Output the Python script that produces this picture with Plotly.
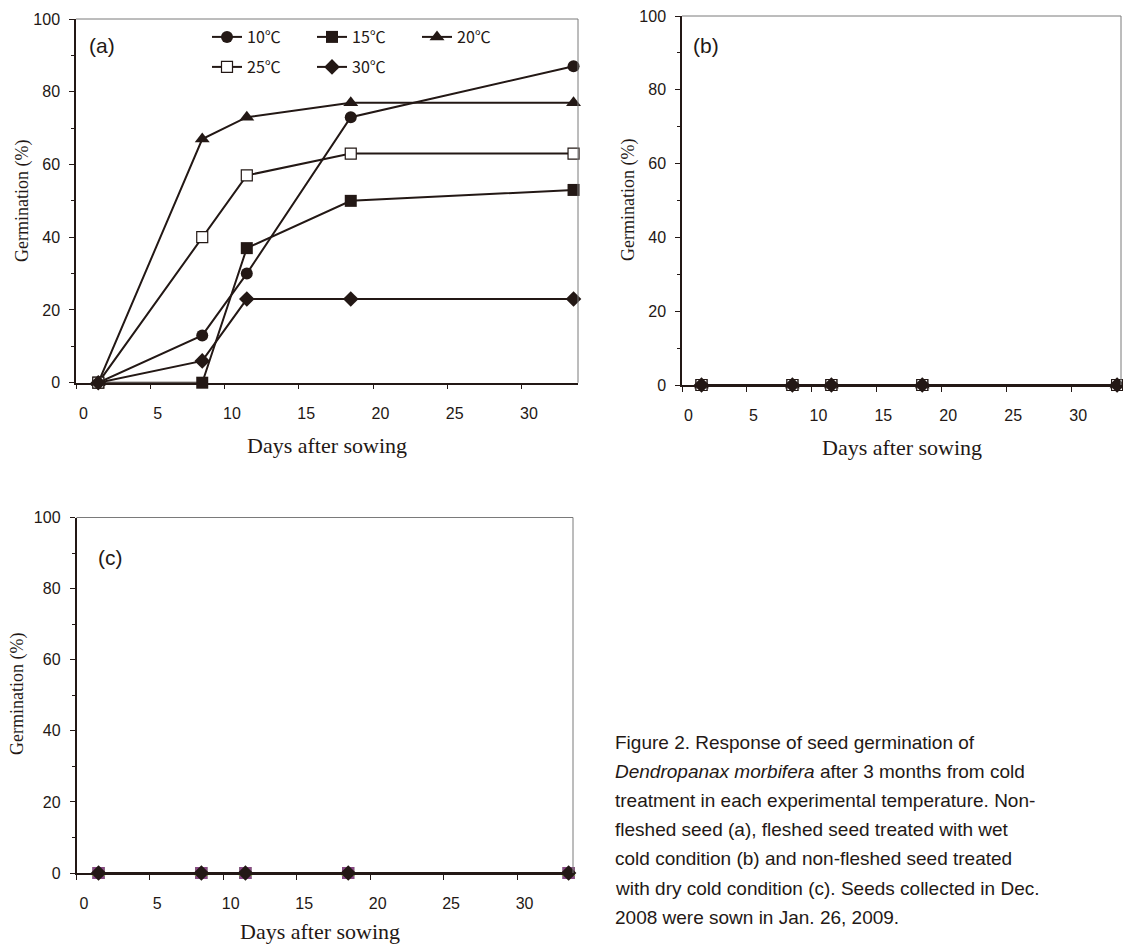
import plotly.graph_objects as go

# ---------------- data ----------------
days = [1, 8, 11, 18, 33]
series_names = ["10℃", "15℃", "20℃", "25℃", "30℃"]
germ_a = {
    "10℃": [0, 13, 30, 73, 87],
    "15℃": [0, 0, 37, 50, 53],
    "20℃": [0, 67, 73, 77, 77],
    "25℃": [0, 40, 57, 63, 63],
    "30℃": [0, 6, 23, 23, 23],
}
germ_b = {k: [0, 0, 0, 0, 0] for k in series_names}
germ_c = {k: [0, 0, 0, 0, 0] for k in series_names}
x_ticks = [0, 5, 10, 15, 20, 25, 30]
y_ticks = [0, 20, 40, 60, 80, 100]

DARK = "#231815"
W, H = 1123, 947

styles = {
    "10℃": dict(symbol="circle", size=12, color=DARK, line=dict(width=0)),
    "15℃": dict(symbol="square", size=12, color=DARK, line=dict(width=0)),
    "20℃": dict(symbol="triangle-up", size=13, color=DARK, line=dict(width=0)),
    "25℃": dict(symbol="square", size=11, color="white", line=dict(width=1.2, color=DARK)),
    "30℃": dict(symbol="diamond", size=12, color=DARK, line=dict(width=0)),
}
styles_c = {
    "10℃": dict(symbol="circle", size=12, color=DARK, line=dict(width=0)),
    "15℃": dict(symbol="square", size=12, color=DARK, line=dict(width=0)),
    "25℃": dict(symbol="square", size=12, color="#8a4a86", line=dict(width=0)),
    "20℃": dict(symbol="triangle-up", size=12, color="#86a94a", line=dict(width=0)),
    "30℃": dict(symbol="diamond", size=12, color=DARK, line=dict(width=0)),
}

fig = go.Figure()

# panel a
for i, name in enumerate(series_names):
    fig.add_trace(go.Scatter(
        x=days, y=germ_a[name], mode="lines+markers", name=name,
        line=dict(color=DARK, width=2), marker=styles[name],
        xaxis="x", yaxis="y", cliponaxis=False, showlegend=True,
        legend="legend" if i < 3 else "legend2"))
# panel b
for name in series_names:
    fig.add_trace(go.Scatter(
        x=days, y=germ_b[name], mode="lines+markers", name=name,
        line=dict(color=DARK, width=2), marker=styles[name],
        xaxis="x2", yaxis="y2", cliponaxis=False, showlegend=False))
# panel c
for name in ["10℃", "15℃", "25℃", "20℃", "30℃"]:
    fig.add_trace(go.Scatter(
        x=days, y=germ_c[name], mode="lines+markers", name=name,
        line=dict(color=DARK, width=2), marker=styles_c[name],
        xaxis="x3", yaxis="y3", cliponaxis=False, showlegend=False))

def px_x(p):
    return p / W

def px_y(p):
    return 1 - p / H

tickfont = dict(family="Liberation Sans", size=16, color=DARK)

def xaxis(dom, anchor):
    return dict(domain=dom, anchor=anchor, range=[-0.5, 33.3],
                tickmode="array", tickvals=x_ticks, ticks="",
                ticklabelstandoff=15, tickfont=tickfont,
                showline=True, linecolor=DARK, linewidth=1.5,
                showgrid=False, zeroline=False,
                minor=dict(tickmode="array", tickvals=[v - 0.5 for v in x_ticks],
                           ticks="outside", ticklen=5, tickwidth=1, tickcolor=DARK))

def yaxis(dom, anchor):
    return dict(domain=dom, anchor=anchor, range=[0, 100],
                tickmode="array", tickvals=y_ticks, ticks="outside", ticklen=5,
                tickwidth=1, tickcolor=DARK, ticklabelstandoff=6, tickfont=tickfont,
                showline=True, linecolor=DARK, linewidth=1.5,
                showgrid=False, zeroline=False,
                minor=dict(dtick=10, ticks="outside", ticklen=3, tickwidth=1, tickcolor=DARK))

legend_font = dict(family="Noto Sans CJK KR", size=16, color=DARK)
fig.update_layout(
    width=W, height=H, margin=dict(l=0, r=0, t=0, b=0, autoexpand=False),
    paper_bgcolor="white", plot_bgcolor="white",
    xaxis=xaxis([px_x(76), px_x(578)], "y"),
    yaxis=yaxis([px_y(382.7), px_y(19)], "x"),
    xaxis2=xaxis([px_x(682), px_x(1121)], "y2"),
    yaxis2=yaxis([px_y(385), px_y(16)], "x2"),
    xaxis3=xaxis([px_x(76.5), px_x(573)], "y3"),
    yaxis3=yaxis([px_y(873), px_y(517.5)], "x3"),
    legend=dict(orientation="h", x=px_x(207), y=px_y(20), xanchor="left", yanchor="top",
                font=legend_font, bgcolor="rgba(0,0,0,0)",
                entrywidth=60, entrywidthmode="pixels"),
    legend2=dict(orientation="h", x=px_x(207), y=px_y(50), xanchor="left", yanchor="top",
                 font=legend_font, bgcolor="rgba(0,0,0,0)",
                 entrywidth=60, entrywidthmode="pixels"),
)

# gray frame on top and right of each panel
shapes = []
for xr, yr in [("x domain", "y domain"), ("x2 domain", "y2 domain"), ("x3 domain", "y3 domain")]:
    shapes.append(dict(type="line", xref=xr, yref=yr, x0=0, x1=1, y0=1, y1=1,
                       line=dict(color="#7a7a7a", width=1)))
    shapes.append(dict(type="line", xref=xr, yref=yr, x0=1, x1=1, y0=0, y1=1,
                       line=dict(color="#7a7a7a", width=1)))
fig.update_layout(shapes=shapes)

ann = []
serif = "Liberation Serif"
# panel letters
for txt, xp, yp in [("(a)", 102, 45), ("(b)", 706, 45), ("(c)", 110, 557)]:
    ann.append(dict(text=txt, x=px_x(xp), y=px_y(yp), xref="paper", yref="paper",
                    showarrow=False, xanchor="center", yanchor="middle",
                    font=dict(family="Liberation Sans", size=21, color=DARK)))
# axis titles
for xp, yp in [(327, 445), (902, 448), (320, 931)]:
    ann.append(dict(text="Days after sowing", x=px_x(xp), y=px_y(yp), xref="paper", yref="paper",
                    showarrow=False, xanchor="center", yanchor="middle",
                    font=dict(family=serif, size=22, color=DARK)))
for xp, yp in [(22, 201), (628, 200), (17, 694)]:
    ann.append(dict(text="Germination (%)", x=px_x(xp), y=px_y(yp), xref="paper", yref="paper",
                    showarrow=False, xanchor="center", yanchor="middle", textangle=-90,
                    font=dict(family=serif, size=18, color=DARK)))
# caption
caption = [
    "Figure 2. Response of seed germination of",
    "<i>Dendropanax morbifera</i> after 3 months from cold",
    "treatment in each experimental temperature. Non-",
    "fleshed seed (a), fleshed seed treated with wet",
    "cold condition (b) and non-fleshed seed treated",
    "with dry cold condition (c). Seeds collected in Dec.",
    "2008 were sown in Jan. 26, 2009.",
]
for i, line in enumerate(caption):
    ann.append(dict(text=line, x=px_x(613), y=px_y(742 + i * 29.2), xref="paper", yref="paper",
                    showarrow=False, xanchor="left", yanchor="middle", align="left",
                    font=dict(family="Liberation Sans", size=19, color=DARK)))
fig.update_layout(annotations=ann)

fig.write_html("out.html")
